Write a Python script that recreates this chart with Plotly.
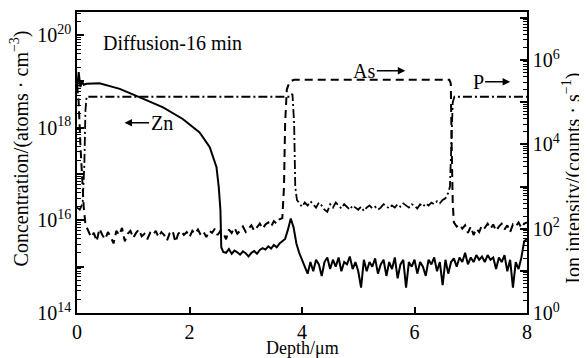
import plotly.graph_objects as go

# ---------------- data (log10 units) ----------------
# Zn concentration (left axis, atoms/cm^3), log10 values
zn_head_depth = [0, 0.03, 0.06, 0.09, 0.12, 0.17, 0.4, 0.76, 1.17, 1.53, 1.88, 2.18, 2.36, 2.48, 2.52, 2.55, 2.565, 2.6]
zn_head_log = [18.8, 19.2, 18.88, 19.0, 18.93, 18.95, 18.96, 18.84, 18.63, 18.44, 18.19, 17.9, 17.58, 17.15, 16.72, 16.22, 15.42, 15.32]
zn_mid_start, zn_mid_step = 2.65, 0.05
zn_mid_log = [15.30, 15.38, 15.28, 15.35, 15.31, 15.26, 15.33, 15.29, 15.22, 15.30,
              15.34, 15.28, 15.36, 15.40, 15.37, 15.44, 15.39, 15.47, 15.42, 15.50]
zn_peak_depth = [3.65, 3.70, 3.75, 3.80, 3.85, 3.90, 3.95]
zn_peak_log = [15.55, 15.6, 15.8, 16.04, 15.85, 15.5, 15.3]
zn_tail_start, zn_tail_step = 4.0, 0.05
zn_tail_log = [15.15, 15.0, 14.85, 15.1, 14.9, 15.15, 15.05, 14.8, 15.1, 15.2,
               14.95, 15.15, 15.0, 15.2, 14.9, 15.1, 15.05, 15.22, 14.95, 15.1,
               14.9, 14.55, 15.15, 14.9, 15.1, 15.0, 15.18, 14.85, 15.05, 15.15,
               14.8, 15.1, 14.95, 15.2, 14.75, 15.05, 15.15, 14.55, 15.1, 15.0,
               15.15, 14.85, 15.1, 15.0, 14.8, 15.15, 15.05, 15.2, 14.9, 15.1,
               14.6, 15.15, 14.85, 15.1, 15.18, 15.0, 15.2, 15.1, 15.3, 15.05,
               15.2, 15.1, 15.25, 15.15, 15.22, 15.1, 15.25, 15.15, 15.2, 14.95,
               15.2, 15.1, 15.25, 14.9, 15.15, 14.55, 15.1, 14.95, 15.2, 15.55, 15.6]

# As ion intensity (right axis, counts/s), log10 values
as_head_depth = [0, 0.03, 0.06, 0.09, 0.12, 0.15]
as_head_log = [5.4, 5.0, 4.0, 3.2, 2.5, 2.1]
as_low1_start, as_low1_step = 0.20, 0.05
as_low1_log = [1.95, 1.80, 1.90, 1.70, 2.00, 1.85, 1.75, 1.92, 1.80, 1.65,
               1.95, 1.85, 2.02, 1.70, 1.88, 1.95, 1.78, 1.90, 1.98, 1.82,
               1.88, 1.75, 1.90, 1.85, 1.95, 1.80, 1.92, 1.85, 1.72, 1.90,
               1.95, 1.68, 1.88, 1.95, 1.85, 1.92, 1.80, 1.95, 1.88, 1.98,
               1.85, 1.92, 1.80, 1.95, 1.90, 2.00, 1.85, 1.95, 1.90, 1.75,
               1.98, 1.90, 2.02, 1.88, 1.95, 2.05, 1.92, 2.00, 2.08, 1.95,
               2.05, 2.12, 2.00, 2.10, 2.15, 2.05, 2.18, 2.12, 2.22, 2.25]
as_high_depth = [3.68, 3.70, 3.73, 3.77, 3.82, 3.86, 6.62, 6.645, 6.66, 6.68, 6.70]
as_high_log = [3.0, 4.5, 5.3, 5.45, 5.51, 5.53, 5.53, 5.45, 4.0, 2.6, 2.15]
as_low2_start, as_low2_step = 6.75, 0.05
as_low2_log = [2.05, 2.10, 2.00, 2.08, 1.90, 2.05, 1.85, 2.00, 1.92, 2.08,
               2.02, 2.12, 2.00, 2.10, 1.95, 2.05, 2.12, 1.98, 2.08, 1.92,
               2.10, 2.05, 2.15, 2.02, 2.12, 2.15]

# P ion intensity (right axis, counts/s), log10 values
p_head_depth = [0, 0.05, 0.10, 0.13, 0.15, 0.17, 3.80, 3.83, 3.86, 3.88, 3.91]
p_head_log = [2.5, 2.45, 2.6, 3.5, 4.8, 5.13, 5.13, 5.2, 4.5, 3.0, 2.68]
p_low_start, p_low_step = 3.95, 0.05
p_low_log = [2.60, 2.52, 2.62, 2.55, 2.65, 2.58, 2.50, 2.62, 2.55, 2.45,
             2.40, 2.58, 2.50, 2.62, 2.55, 2.48, 2.58, 2.52, 2.45, 2.55,
             2.50, 2.45, 2.52, 2.42, 2.50, 2.55, 2.48, 2.52, 2.45, 2.50,
             2.58, 2.52, 2.48, 2.55, 2.50, 2.58, 2.52, 2.60, 2.55, 2.50,
             2.58, 2.55, 2.48, 2.58, 2.52, 2.60, 2.55, 2.62, 2.58, 2.65,
             2.60, 2.68, 2.72]
p_tail_depth = [6.60, 6.63, 6.655, 6.68, 6.71, 8.0]
p_tail_log = [2.85, 3.0, 4.0, 5.0, 5.13, 5.13]

x_ticks = [0, 2, 4, 6, 8]
left_label_exps = [14, 16, 18, 20]
right_label_exps = [0, 2, 4, 6]


def grid(start, step, n):
    return [round(start + i * step, 4) for i in range(n)]


zn_x = zn_head_depth + grid(zn_mid_start, zn_mid_step, len(zn_mid_log)) + zn_peak_depth + \
    grid(zn_tail_start, zn_tail_step, len(zn_tail_log))
zn_y = [10 ** v for v in zn_head_log + zn_mid_log + zn_peak_log + zn_tail_log]

as_x = as_head_depth + grid(as_low1_start, as_low1_step, len(as_low1_log)) + as_high_depth + \
    grid(as_low2_start, as_low2_step, len(as_low2_log))
as_y = [10 ** v for v in as_head_log + as_low1_log + as_high_log + as_low2_log]

p_x = p_head_depth + grid(p_low_start, p_low_step, len(p_low_log)) + p_tail_depth
p_y = [10 ** v for v in p_head_log + p_low_log + p_tail_log]

FONT = "Liberation Serif, Times New Roman, Tinos, serif"

fig = go.Figure()
fig.add_trace(go.Scatter(x=p_x, y=p_y, yaxis="y2", mode="lines",
                         line=dict(color="black", width=1.8, dash="9px,3px,2px,3px")))
fig.add_trace(go.Scatter(x=as_x, y=as_y, yaxis="y2", mode="lines",
                         line=dict(color="black", width=2, dash="8px,5px")))
fig.add_trace(go.Scatter(x=zn_x, y=zn_y, yaxis="y", mode="lines",
                         line=dict(color="black", width=2)))


def sup(e):
    return "10<sup>%d</sup>" % e


left_major = [10.0 ** e for e in range(14, 21)]
left_text = [sup(e) if e in left_label_exps else "" for e in range(14, 21)]
left_minor = [m * 10.0 ** e for e in range(14, 21) for m in range(2, 10) if m * 10.0 ** e < 10 ** 20.5]
right_major = [10.0 ** e for e in range(0, 8)]
right_text = [sup(e) if e in right_label_exps else "" for e in range(0, 8)]
right_minor = [m * 10.0 ** e for e in range(0, 8) for m in range(2, 10) if m * 10.0 ** e < 10 ** 7.14]

# the page body has an 8px margin, so the figure is sized/offset to compensate
fig.update_layout(
    width=579, height=350,
    margin=dict(l=69, r=60, t=4, b=45, autoexpand=False),
    paper_bgcolor="white", plot_bgcolor="white",
    showlegend=False,
    font=dict(family=FONT, size=20, color="black"),
    xaxis=dict(range=[0, 8], tickvals=x_ticks, ticktext=[str(v) for v in x_ticks],
               ticks="inside", ticklen=6, tickwidth=1.5, tickcolor="black",
               showline=True, linecolor="black", linewidth=1.5, mirror=True,
               showgrid=False, zeroline=False, automargin=False,
               tickfont=dict(family=FONT, size=20)),
    yaxis=dict(type="log", range=[14, 20.5], tickvals=left_major, ticktext=left_text,
               ticks="inside", ticklen=7, tickwidth=1.5, tickcolor="black",
               minor=dict(tickvals=left_minor, ticks="inside", ticklen=4, tickwidth=1, tickcolor="black"),
               showline=True, linecolor="black", linewidth=1.5,
               showgrid=False, zeroline=False, automargin=False,
               tickfont=dict(family=FONT, size=20)),
    yaxis2=dict(type="log", range=[0, 7.14], overlaying="y", side="right",
                tickvals=right_major, ticktext=right_text,
                ticks="inside", ticklen=7, tickwidth=1.5, tickcolor="black",
                minor=dict(tickvals=right_minor, ticks="inside", ticklen=4, tickwidth=1, tickcolor="black"),
                showline=True, linecolor="black", linewidth=1.5,
                showgrid=False, zeroline=False, automargin=False,
                tickfont=dict(family=FONT, size=20)),
)

# axis titles placed as annotations (positions follow the reference)
fig.add_annotation(x=0.5, y=-0.116, xref="paper", yref="paper", text="Depth/μm",
                   showarrow=False, xanchor="center", yanchor="middle",
                   font=dict(family=FONT, size=18))
fig.add_annotation(x=-0.128, y=0.548, xref="paper", yref="paper",
                   text="Concentration/(atoms · cm<sup>−3</sup>)", textangle=-90,
                   showarrow=False, xanchor="center", yanchor="middle",
                   font=dict(family=FONT, size=20))
fig.add_annotation(x=1.099, y=0.448, xref="paper", yref="paper",
                   text="Ion intensity/(counts · s<sup>−1</sup>)", textangle=-90,
                   showarrow=False, xanchor="center", yanchor="middle",
                   font=dict(family=FONT, size=20))

fig.add_annotation(x=0.432, y=0.897, xref="x", yref="paper", text="Diffusion-16 min",
                   showarrow=False, xanchor="left", yanchor="middle", font=dict(family=FONT, size=20))
fig.add_annotation(x=0.846, y=0.632, xref="x", yref="paper", text="Zn",
                   showarrow=True, ax=37, ay=0, arrowhead=2, arrowsize=1, arrowwidth=1.5,
                   arrowcolor="black", font=dict(family=FONT, size=20))
fig.add_annotation(x=5.837, y=0.805, xref="x", yref="paper", text="As",
                   showarrow=True, ax=-41, ay=0, arrowhead=2, arrowsize=1, arrowwidth=1.5,
                   arrowcolor="black", font=dict(family=FONT, size=20))
fig.add_annotation(x=7.70, y=0.768, xref="x", yref="paper", text="P",
                   showarrow=True, ax=-32, ay=0, arrowhead=2, arrowsize=1, arrowwidth=1.5,
                   arrowcolor="black", font=dict(family=FONT, size=20))

fig.write_html("out.html")
